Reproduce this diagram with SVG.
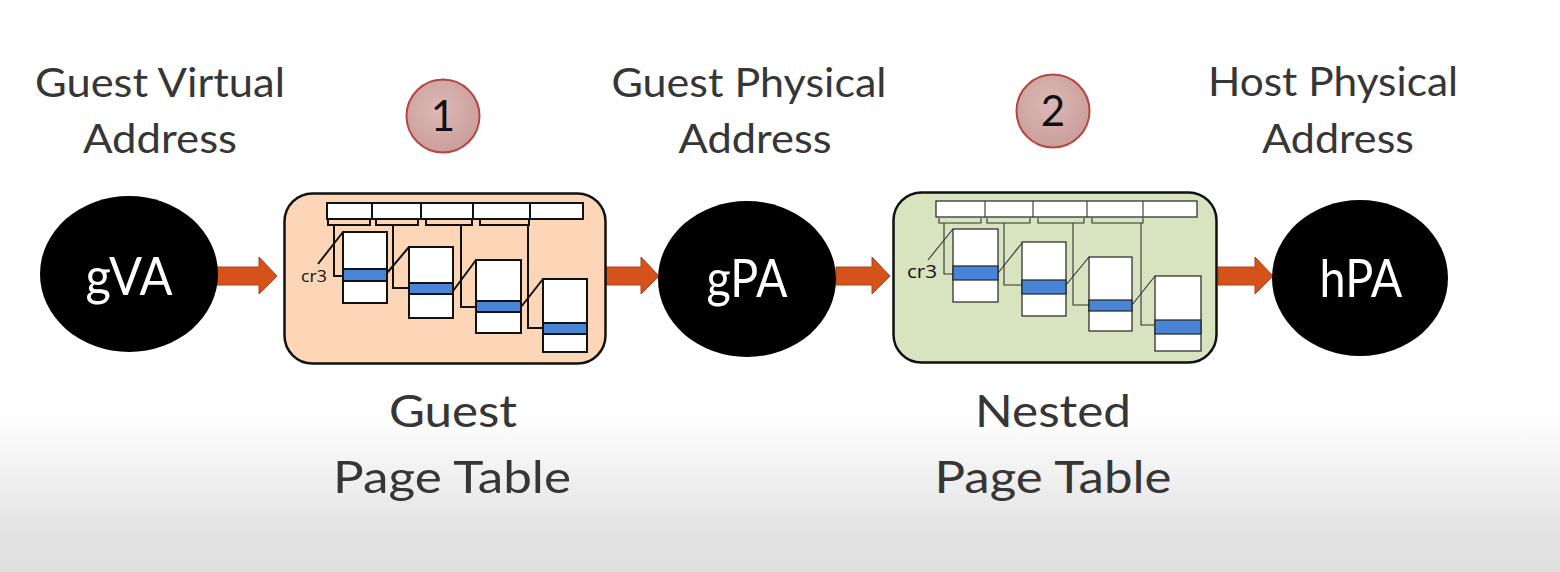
<svg xmlns="http://www.w3.org/2000/svg" width="1560" height="572" viewBox="0 0 1560 572">
<defs>
<linearGradient id="bg" x1="0" y1="0" x2="0" y2="572" gradientUnits="userSpaceOnUse">
<stop offset="0" stop-color="#ffffff"/>
<stop offset="0.72" stop-color="#ffffff"/>
<stop offset="0.94" stop-color="#e2e2e2"/>
<stop offset="1" stop-color="#e0e0e0"/>
</linearGradient>
<radialGradient id="num" cx="0.45" cy="0.4" r="0.65">
<stop offset="0" stop-color="#dcb9b7"/>
<stop offset="1" stop-color="#c99c99"/>
</radialGradient>
<style>
.lbl{font-family:Lato,"Open Sans","Liberation Sans",sans-serif;fill:#363636;text-anchor:middle}
.top{font-size:40px}
.bot{font-size:45px}
.nodet{font-family:Lato,"Open Sans","Liberation Sans",sans-serif;font-size:52px;fill:#ffffff;text-anchor:middle}
.numt{font-family:Lato,"Open Sans","Liberation Sans",sans-serif;font-size:42px;fill:#111111;text-anchor:middle}
.num{fill:url(#num);stroke:#b4473f;stroke-width:2}
.arrow{fill:#d6521b;stroke:#a9421a;stroke-width:1}
.gbox{fill:#fcd6b6;stroke:#111;stroke-width:2.5}
.nbox{fill:#d8e3bf;stroke:#111;stroke-width:2.5}
.cell{fill:#ffffff;stroke:#111;stroke-width:2}
.ncell{fill:#ffffff;stroke:#222;stroke-width:1.2}
.blue{fill:#4a84d6;stroke:#111;stroke-width:2}
.nblue{fill:#4a84d6;stroke:#222;stroke-width:1.2}
.gl{fill:none;stroke:#111;stroke-width:2}
.nl{fill:none;stroke:#333;stroke-width:1.1}
.cr{font-family:"Open Sans","Liberation Sans",sans-serif;fill:#111;text-anchor:start}
</style>
</defs>
<rect x="0" y="0" width="1560" height="572" fill="url(#bg)"/>

<g id="label-gva">
<text class="lbl top" x="160" y="97" textLength="250" lengthAdjust="spacingAndGlyphs">Guest Virtual</text>
<text class="lbl top" x="160" y="153" textLength="154" lengthAdjust="spacingAndGlyphs">Address</text>
</g>
<g id="label-gpa">
<text class="lbl top" x="749" y="97" textLength="275" lengthAdjust="spacingAndGlyphs">Guest Physical</text>
<text class="lbl top" x="755" y="153" textLength="153" lengthAdjust="spacingAndGlyphs">Address</text>
</g>
<g id="label-hpa">
<text class="lbl top" x="1333" y="96" textLength="250" lengthAdjust="spacingAndGlyphs">Host Physical</text>
<text class="lbl top" x="1338" y="153" textLength="152" lengthAdjust="spacingAndGlyphs">Address</text>
</g>

<g id="step-1">
<circle class="num" cx="443" cy="116" r="36.5"/>
<text class="numt" x="443" y="131">1</text>
</g>
<g id="step-2">
<circle class="num" cx="1053" cy="111" r="36.5"/>
<text class="numt" x="1053" y="126">2</text>
</g>

<g id="connectors">
<polygon class="arrow" points="217,267 259,267 259,257 277,276 259,294 259,285 217,285"/>
<polygon class="arrow" points="606,267 641,267 641,257 659,276 641,294 641,285 606,285"/>
<polygon class="arrow" points="836,267 872,267 872,257 890,276 872,294 872,285 836,285"/>
<polygon class="arrow" points="1218,267 1255,267 1255,257 1273,276 1255,294 1255,285 1218,285"/>
</g>

<g id="node-gva">
<ellipse cx="129" cy="274" rx="89" ry="78" fill="#000"/>
<text class="nodet" x="129" y="295" textLength="87" lengthAdjust="spacingAndGlyphs">gVA</text>
</g>
<g id="node-gpa">
<ellipse cx="747" cy="279" rx="89" ry="78" fill="#000"/>
<text class="nodet" x="747" y="297" textLength="81" lengthAdjust="spacingAndGlyphs">gPA</text>
</g>
<g id="node-hpa">
<ellipse cx="1360" cy="278" rx="88" ry="78" fill="#000"/>
<text class="nodet" x="1361" y="297" textLength="83" lengthAdjust="spacingAndGlyphs">hPA</text>
</g>

<g id="guest-page-table">
<rect class="gbox" x="284.5" y="193.5" width="321" height="170" rx="28"/>
<rect class="cell" x="327" y="203" width="256" height="16"/>
<path class="gl" d="M372,203V219M421,203V219M473,203V219M530,203V219"/>
<path class="gl" d="M328,219V225H370V219M376,219V225H418V219M426,219V225H472V219M480,219V225H529V219"/>
<path class="gl" d="M334,225V276H343M393,225V288H409M461,225V307H476M528,225V328H543"/>
<rect class="cell" x="343" y="232" width="44" height="71"/>
<rect class="blue" x="343" y="269" width="44" height="12"/>
<rect class="cell" x="409" y="247" width="44" height="71"/>
<rect class="blue" x="409" y="283" width="44" height="11"/>
<rect class="cell" x="476" y="260" width="45" height="73"/>
<rect class="blue" x="476" y="301" width="45" height="11"/>
<rect class="cell" x="543" y="279" width="44" height="73"/>
<rect class="blue" x="543" y="323" width="44" height="11"/>
<path class="gl" d="M318,264L343,232M387,273L409,247M453,291L476,260M521,307L543,279"/>
<text class="cr" x="301" y="282" font-size="16.5" textLength="26" lengthAdjust="spacingAndGlyphs">cr3</text>
</g>

<g id="nested-page-table">
<rect class="nbox" x="893.5" y="192.5" width="323" height="170" rx="28"/>
<rect class="ncell" x="936" y="201" width="261" height="16"/>
<path class="nl" d="M985,201V217M1033,201V217M1087,201V217M1143,201V217"/>
<path class="nl" d="M939,218V223H981V218M987,218V223H1030V218M1038,218V223H1084V218M1092,218V223H1143V218"/>
<path class="nl" d="M944,223V274H953M1004,223V285H1022M1073,223V305H1089M1141,223V325H1155"/>
<rect class="ncell" x="953" y="229" width="45" height="73"/>
<rect class="nblue" x="953" y="266" width="45" height="14"/>
<rect class="ncell" x="1022" y="242" width="44" height="74"/>
<rect class="nblue" x="1022" y="280" width="44" height="14"/>
<rect class="ncell" x="1089" y="257" width="43" height="74"/>
<rect class="nblue" x="1089" y="300" width="43" height="11"/>
<rect class="ncell" x="1155" y="276" width="46" height="75"/>
<rect class="nblue" x="1155" y="320" width="46" height="14"/>
<path class="nl" d="M928,260L953,229M998,273L1022,243M1066,285L1089,257M1132,305L1155,276"/>
<text class="cr" x="907" y="278" font-size="19" textLength="30" lengthAdjust="spacingAndGlyphs">cr3</text>
</g>

<g id="label-guest-pt">
<text class="lbl bot" x="453" y="427" textLength="128" lengthAdjust="spacingAndGlyphs">Guest</text>
<text class="lbl bot" x="452" y="493" textLength="238" lengthAdjust="spacingAndGlyphs">Page Table</text>
</g>
<g id="label-nested-pt">
<text class="lbl bot" x="1053" y="427" textLength="156" lengthAdjust="spacingAndGlyphs">Nested</text>
<text class="lbl bot" x="1053" y="493" textLength="237" lengthAdjust="spacingAndGlyphs">Page Table</text>
</g>
</svg>
